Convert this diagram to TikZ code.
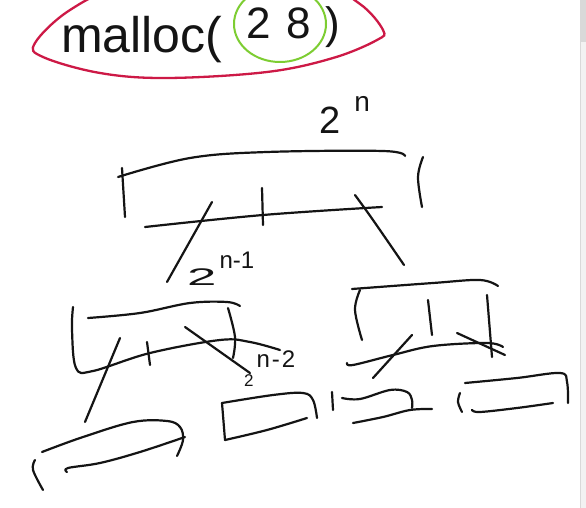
\documentclass[tikz,border=0pt]{standalone}
\usepackage{fontspec}
\setmainfont{Liberation Sans}
\definecolor{inkred}{RGB}{205,25,70}
\definecolor{inkgreen}{RGB}{125,205,50}
\definecolor{ink}{RGB}{20,20,20}
\begin{document}
\begin{tikzpicture}[x=1pt,y=-1pt,
  pen/.style={line width=2.2pt, line cap=round, line join=round, draw=ink},
  hand/.style={inner sep=0pt, anchor=base west, text=ink},
  sm/.style={smooth, tension=0.6}]
\useasboundingbox (0,0) rectangle (586,508);
\clip (0,0) rectangle (586,508);
\fill[white] (0,0) rectangle (586,508);
% scrollbar strip
\fill[gray!10] (580,0) rectangle (586,508);
\fill[gray!30] (580,0) rectangle (586,42);
\draw[gray!30, line width=0.6pt] (580,0) -- (580,508);

% title
\draw[inkred, line width=2.3pt] plot[smooth cycle, tension=0.6] coordinates {(35,43) (43,57) (100,73) (167,78) (267,72) (333,58) (377,40) (383,30) (360,4) (320,-14) (220,-20) (125,-14) (70,10)};
\draw[inkgreen, line width=2pt] (280,24) ellipse [x radius=46, y radius=38];
\node[hand, font=\fontsize{50}{50}\selectfont] (malloc) at (61,53) {malloc(};
\node[hand, font=\fontsize{44}{44}\selectfont] (arg) at (246,39) {2\hspace{16pt}8\hspace{14pt})};

% 2^n
\node[hand, font=\fontsize{38}{38}\selectfont] (lbl0) at (319,133) {2\hspace{14pt}\raisebox{21pt}{\fontsize{28}{28}\selectfont n}};

% level 0 box
\draw[pen] plot[sm] coordinates {(118,177) (190,158) (267,152) (383,151) (405,156)};
\draw[pen] (122,168) -- (125,217);
\draw[pen] plot[sm] coordinates {(423,157) (418,177) (422,207)};
\draw[pen] plot[sm] coordinates {(145,227) (263,215) (382,207)};
\draw[pen] (262,188) -- (263,225);
\draw[pen] (212,202) -- (167,282);
\draw[pen] plot[sm] coordinates {(355,195) (373,220) (404,265)};

% 2^{n-1}
\node[hand, font=\fontsize{24}{24}\selectfont] (lbl1) at (187,285) {\scalebox{2.2}[1]{2}\hspace{3pt}\raisebox{17pt}{n-1}};

% level 1 left box
\draw[pen] plot[sm] coordinates {(88,318) (140,313) (190,303) (227,302) (240,306)};
\draw[pen] plot[sm] coordinates {(73,307) (72,330) (76,368) (93,371) (150,353) (220,340) (250,342) (280,350)};
\draw[pen] plot[sm] coordinates {(228,308) (235,337) (233,358)};
\draw[pen] (147,342) -- (150,365);
\draw[pen] (120,338) -- (85,422);
\draw[pen] (185,327) -- (250,373);

% 2^{n-2}
\node[hand, font=\fontsize{24}{24}\selectfont] (lbl2) at (244,386) {{\fontsize{17}{17}\selectfont 2}\hspace{3pt}\raisebox{19pt}{n\hspace{2pt}-\hspace{2pt}2}};

% level 1 right box
\draw[pen] plot[sm] coordinates {(352,289) (433,283) (480,280) (498,286)};
\draw[pen] plot[sm] coordinates {(360,290) (355,310) (362,340)};
\draw[pen] (428,300) -- (432,335);
\draw[pen] (487,295) -- (492,357);
\draw[pen] plot[sm] coordinates {(347,363) (353,365) (393,355) (433,346) (487,343) (503,347)};
\draw[pen] (412,335) -- (373,378);
\draw[pen] (457,333) -- (505,355);

% level 2 boxes
\draw[pen] plot[sm] coordinates {(42,452) (83,437) (133,422) (167,421) (180,427) (183,440) (177,456)};
\draw[pen] plot[sm] coordinates {(67,472) (68,468) (100,463) (140,452) (185,437)};
\draw[pen] plot[sm] coordinates {(35,460) (33,470) (43,490)};

\draw[pen] plot[sm] coordinates {(222,403) (273,395) (303,393) (313,400) (317,418)};
\draw[pen] (222,403) -- (225,440);
\draw[pen] plot[sm] coordinates {(225,440) (267,430) (307,418)};

\draw[pen] (332,392) -- (333,410);
\draw[pen] plot[sm] coordinates {(342,398) (360,399) (390,390) (407,392) (412,400) (412,408)};
\draw[pen] plot[sm] coordinates {(353,423) (383,417) (410,410) (432,409)};

\draw[pen] plot[sm] coordinates {(460,393) (458,402) (462,412)};
\draw[pen] plot[sm] coordinates {(465,383) (517,378) (560,373) (567,382) (568,403)};
\draw[pen] plot[sm] coordinates {(472,410) (480,412) (517,408) (553,403)};
\end{tikzpicture}
\end{document}
